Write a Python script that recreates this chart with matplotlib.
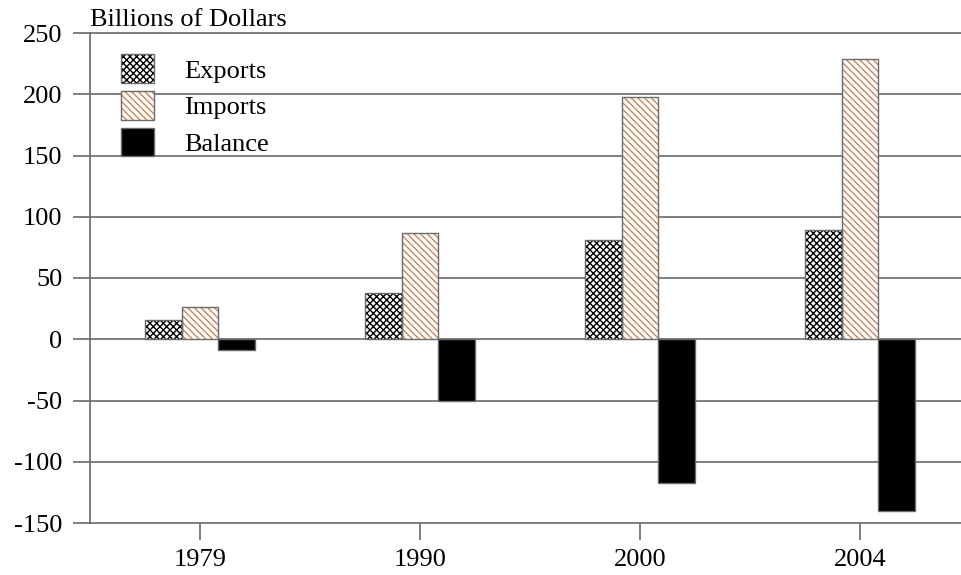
import numpy as np
import matplotlib.pyplot as plt
from matplotlib.patches import Patch

plt.rcParams['font.family'] = ['Liberation Serif', 'DejaVu Serif']
plt.rcParams['hatch.linewidth'] = 1.0
plt.rcParams['axes.unicode_minus'] = False

years = ['1979', '1990', '2000', '2004']
exports = [16, 38, 81, 89]
imports = [26, 87, 198, 229]
balance = [-9, -50, -117, -140]

x = np.arange(len(years))
w = 0.167
edge = '#6a6a6a'
imp_hatch = '#c8875a'
fs = 19

fig = plt.figure(figsize=(9.62, 5.75), dpi=100)
ax = fig.add_axes([90 / 962, 1 - 523 / 575, 1 - 90 / 962, 490 / 575])

for v in range(-100, 250, 50):
    ax.axhline(v, color=edge, lw=1.2, zorder=1)

# exports: black crosshatch
ax.bar(x - w, exports, w, color='white', edgecolor='black', hatch='xxxxx', lw=0, zorder=2)
ax.bar(x - w, exports, w, color='none', edgecolor=edge, lw=1, zorder=3)
# imports: orange diagonal hatch
ax.bar(x, imports, w, color='white', edgecolor=imp_hatch, hatch='\\\\\\\\\\', lw=0, zorder=2)
ax.bar(x, imports, w, color='none', edgecolor=edge, lw=1, zorder=3)
# balance: solid black
ax.bar(x + w, balance, w, color='black', edgecolor=edge, lw=1, zorder=3)

ax.set_xlim(-0.5, -0.5 + 872 / 220)
ax.set_ylim(-150, 250)
ax.set_yticks(range(-150, 251, 50))
ax.set_xticks(x)
ax.set_xticklabels(years)
ax.tick_params(axis='y', length=12, width=1.2, color=edge, labelsize=fs, pad=8)
ax.tick_params(axis='x', length=12, width=1.2, color=edge, labelsize=fs, pad=7)

ax.spines['right'].set_visible(False)
for s in ['left', 'top', 'bottom']:
    ax.spines[s].set_color(edge)
    ax.spines[s].set_linewidth(1.2)

ax.text(0, 1.004, 'Billions of Dollars', transform=ax.transAxes, fontsize=fs, va='bottom', ha='left')

outline = Patch(facecolor='none', edgecolor=edge, lw=1)
h_exp = (Patch(facecolor='white', edgecolor='black', hatch='xxxxx', lw=0), outline)
h_imp = (Patch(facecolor='white', edgecolor=imp_hatch, hatch='\\\\\\\\\\', lw=0), outline)
h_bal = Patch(facecolor='black', edgecolor=edge, lw=1)
leg = ax.legend([h_exp, h_imp, h_bal], ['Exports', 'Imports', 'Balance'],
                loc='upper left', bbox_to_anchor=(0.008, 1.005), frameon=False,
                fontsize=fs, handlelength=1.25, handleheight=1.3, handletextpad=1.15,
                labelspacing=0.3)

fig.savefig('out.png', dpi=100)
